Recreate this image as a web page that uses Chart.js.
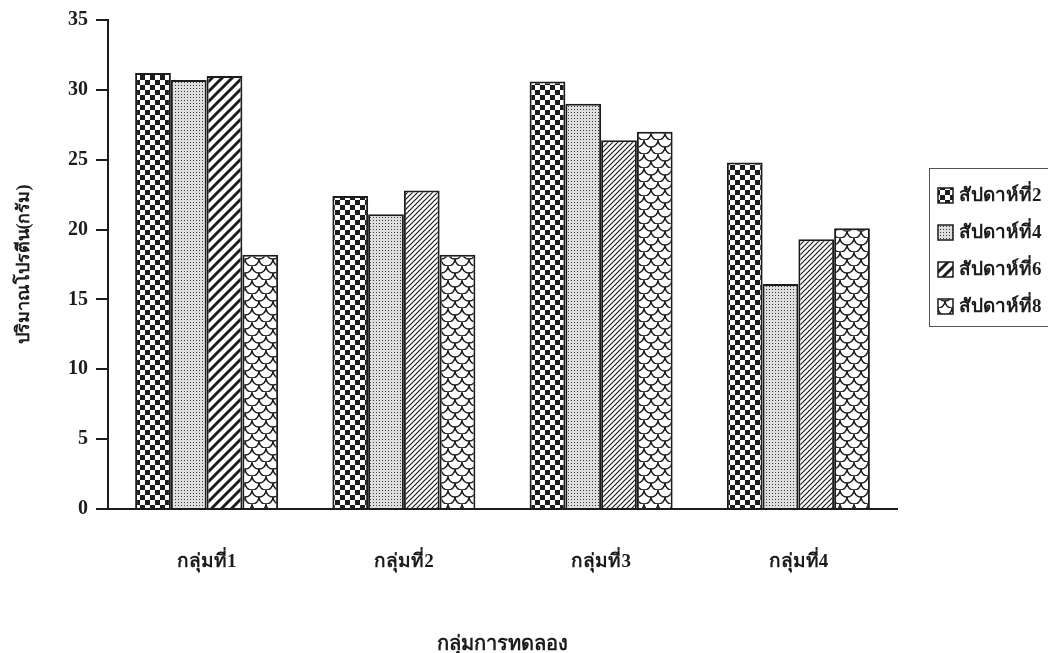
<!DOCTYPE html>
<html>
<head>
<meta charset="utf-8">
<script src="https://cdn.jsdelivr.net/npm/chart.js@4/dist/chart.umd.min.js"></script>
<style>
  html, body { margin: 0; padding: 0; background: #fff; }
  #wrap { width: 1048px; height: 653px; }
</style>
</head>
<body>
<div id="wrap"><canvas id="proteinChart" width="1048" height="653"></canvas></div>
<script>

// =========================
// DATA
// =========================

const groups = ['กลุ่มที่1', 'กลุ่มที่2', 'กลุ่มที่3', 'กลุ่มที่4'];

const seriesNames = ['สัปดาห์ที่2', 'สัปดาห์ที่4', 'สัปดาห์ที่6', 'สัปดาห์ที่8'];

const week2 = [31.2, 22.4, 30.6, 24.8];
const week4 = [30.7, 21.1, 29.0, 16.1];
const week6 = [31.0, 22.8, 26.4, 19.3];
const week8 = [18.2, 18.2, 27.0, 20.1];

const yTicks = [0, 5, 10, 15, 20, 25, 30, 35];

const ink = '#1c1c1c';
const thaiFont = "'Liberation Serif', 'Noto Sans', 'DejaVu Serif', serif";


// =========================
// FILL PATTERNS
// =========================

const ctx =
  document.getElementById('proteinChart').getContext('2d');

function tile(w, h, draw) {
  const c = document.createElement('canvas');
  c.width = w;
  c.height = h;
  draw(c.getContext('2d'), w, h);
  return ctx.createPattern(c, 'repeat');
}

const checker = tile(10, 10, (g, w, h) => {
  g.fillStyle = ink;
  g.fillRect(0, 0, w, h);
  g.fillStyle = '#fff';
  g.fillRect(0, 0, 5, 5);
  g.fillRect(5, 5, 5, 5);
});

const dots = tile(3, 3, (g) => {
  g.fillStyle = '#dedede';
  g.fillRect(0, 0, 3, 3);
  g.fillStyle = '#3a3a3a';
  g.fillRect(1, 1, 1, 1);
});

function stripes(size, width) {
  return tile(size, size, (g, w, h) => {
    g.fillStyle = '#fff';
    g.fillRect(0, 0, w, h);
    g.strokeStyle = ink;
    g.lineWidth = width;
    g.beginPath();
    g.moveTo(-w, 2 * h); g.lineTo(2 * w, -h);
    g.moveTo(-w, h);     g.lineTo(w, -h);
    g.moveTo(0, 2 * h);  g.lineTo(2 * w, 0);
    g.stroke();
  });
}

const wideStripes = stripes(10, 3);
const fineStripes = stripes(5, 1.2);

const scales = tile(14, 14, (g, w, h) => {
  g.fillStyle = '#fff';
  g.fillRect(0, 0, w, h);
  g.strokeStyle = ink;
  g.lineWidth = 1.4;
  g.beginPath();
  g.arc(7, 0, 7, 0, Math.PI);
  g.stroke();
  g.beginPath();
  g.arc(0, 7, 7, 0, Math.PI);
  g.stroke();
  g.beginPath();
  g.arc(14, 7, 7, 0, Math.PI);
  g.stroke();
  g.beginPath();
  g.arc(7, 14, 7, 0, Math.PI);
  g.stroke();
});

const legendFills = [checker, dots, wideStripes, scales];


// =========================
// LEGEND BOX
// =========================

const boxedLegend = {
  id: 'boxedLegend',
  afterDraw(chart) {
    const c = chart.ctx;
    const x = 929, y = 168, w = 140, h = 158;
    c.save();
    c.strokeStyle = '#555';
    c.lineWidth = 1;
    c.strokeRect(x + 0.5, y + 0.5, w, h);

    c.font = 'bold 19px ' + thaiFont;
    c.textBaseline = 'middle';

    chart.data.datasets.forEach((ds, i) => {
      const rowY = y + 27 + i * 37;
      c.fillStyle = legendFills[i];
      c.fillRect(x + 9, rowY - 7, 15, 15);
      c.strokeStyle = ink;
      c.lineWidth = 1.5;
      c.strokeRect(x + 9, rowY - 7, 15, 15);
      c.fillStyle = ink;
      c.fillText(ds.label, x + 30, rowY + 1);
    });
    c.restore();
  }
};


// =========================
// CHART
// =========================

new Chart(ctx, {

  type: 'bar',

  data: {

    labels: groups,

    datasets: [
      { label: seriesNames[0], data: week2, backgroundColor: checker },
      { label: seriesNames[1], data: week4, backgroundColor: dots },
      { label: seriesNames[2], data: week6,
        backgroundColor: [wideStripes, fineStripes, fineStripes, fineStripes] },
      { label: seriesNames[3], data: week8, backgroundColor: scales }
    ].map(ds => Object.assign(ds, {
      borderColor: ink,
      borderWidth: 2,
      borderSkipped: 'bottom',
      categoryPercentage: 0.725,
      barPercentage: 1
    }))
  },

  options: {

    responsive: false,
    animation: false,

    layout: {
      padding: { left: 0, top: 20, right: 151, bottom: 0 }
    },

    plugins: {
      legend: { display: false },
      tooltip: { enabled: false }
    },

    scales: {

      x: {
        afterFit(scale) { scale.height = 144; },
        grid: { display: false },
        border: { color: ink, width: 2 },
        ticks: {
          color: ink,
          padding: 34,
          font: { family: thaiFont, weight: 'bold', size: 19 }
        },
        title: {
          display: true,
          text: 'กลุ่มการทดลอง',
          color: ink,
          padding: { top: 0, bottom: -4 },
          font: { family: thaiFont, weight: 'bold', size: 20 }
        }
      },

      y: {
        min: 0,
        max: 35,
        afterFit(scale) { scale.width = 108; },
        afterBuildTicks(scale) {
          scale.ticks = yTicks.map(v => ({ value: v }));
        },
        grid: {
          drawOnChartArea: false,
          tickLength: 12,
          color: ink,
          lineWidth: 2
        },
        border: { color: ink, width: 2 },
        ticks: {
          color: ink,
          padding: 8,
          font: { family: "'Liberation Serif', serif", weight: 'bold', size: 20 }
        },
        title: {
          display: true,
          text: 'ปริมาณโปรตีน(กรัม)',
          color: ink,
          padding: { top: 14, bottom: 0 },
          font: { family: thaiFont, weight: 'bold', size: 18 }
        }
      }
    }
  },

  plugins: [boxedLegend]
});

</script>
</body>
</html>
